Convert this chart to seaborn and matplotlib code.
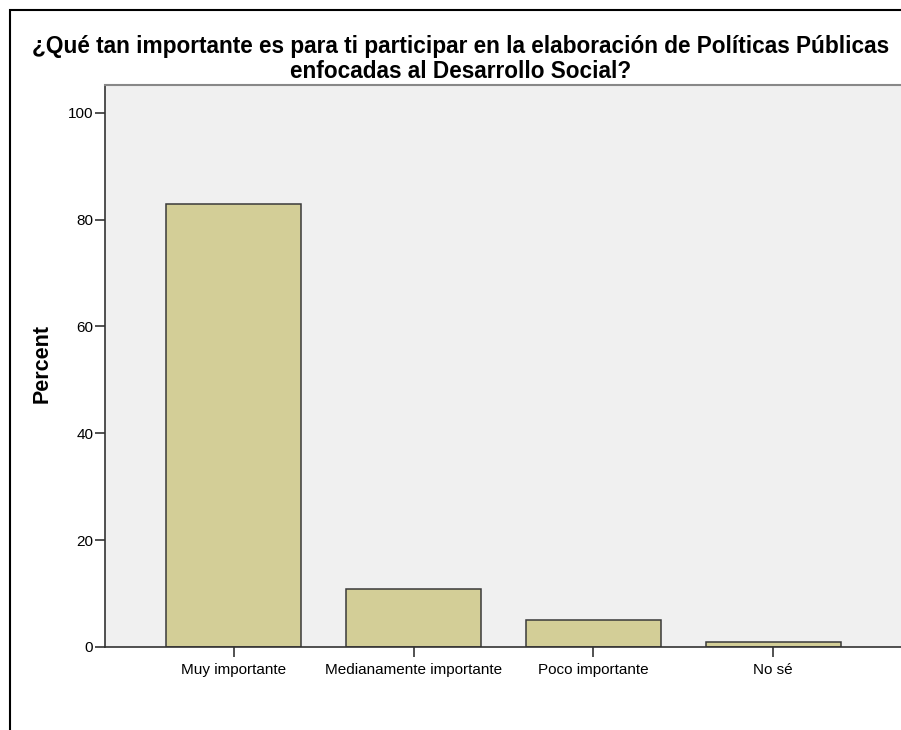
import matplotlib
matplotlib.use("Agg")
import pandas as pd
import seaborn as sns
import matplotlib.pyplot as plt
from matplotlib import font_manager
from matplotlib.patches import Rectangle

# Datos
categorias = ["Muy importante", "Medianamente importante", "Poco importante", "No sé"]
porcentajes = [82.9, 10.9, 5.1, 1.0]
ticks_y = [0, 20, 40, 60, 80, 100]
titulo = ("¿Qué tan importante es para ti participar en la elaboración de Políticas Públicas\n"
          "enfocadas al Desarrollo Social?")

df = pd.DataFrame({"categoria": categorias, "porcentaje": porcentajes})

sns.set_style("white")
plt.rcParams["font.family"] = ["Liberation Sans", "DejaVu Sans"]
plt.rcParams["text.color"] = "black"
plt.rcParams["xtick.color"] = "black"
plt.rcParams["ytick.color"] = "black"
plt.rcParams["axes.labelcolor"] = "black"

# Liberation Sans Bold (no la versión Narrow)
ruta_bold = None
for f in font_manager.fontManager.ttflist:
    if f.name == "Liberation Sans" and f.weight == 700 and f.style == "normal" \
            and "Narrow" not in f.fname:
        ruta_bold = f.fname
        break


def negrita(size):
    if ruta_bold:
        return font_manager.FontProperties(fname=ruta_bold, size=size)
    return font_manager.FontProperties(family="DejaVu Sans", weight="bold", size=size)


W, H = 901, 730
fig = plt.figure(figsize=(W / 100, H / 100), dpi=100)

# Marco exterior
fig.patches.append(Rectangle((10 / W, -0.1), 1.2, (H - 10) / H + 0.1,
                             transform=fig.transFigure, fill=False,
                             edgecolor="black", linewidth=1.5, zorder=0))

ax = fig.add_axes([105 / W, (H - 647) / H, (902 - 105) / W, (647 - 85) / H])
ax.set_facecolor("#F0F0F0")

sns.barplot(data=df, x="categoria", y="porcentaje", order=categorias,
            color="#D3CE97", saturation=1, width=0.75,
            edgecolor="#3A3A3A", linewidth=1.1, ax=ax)

ax.set_xlim(-0.717, 3.717)
ax.set_ylim(0, 105.2)
ax.set_yticks(ticks_y)
ax.set_xlabel("")
ax.set_ylabel("Percent", fontproperties=negrita(15.5))
ax.yaxis.set_label_coords(-0.066, 0.504)
ax.tick_params(axis="both", direction="out", length=7.5, width=1.2, color="#333333",
               labelsize=11, pad=1, left=True, bottom=True)
ax.tick_params(axis="x", pad=4)

for lado in ["left", "bottom"]:
    ax.spines[lado].set_color("#333333")
    ax.spines[lado].set_linewidth(1.2)
ax.spines["top"].set_color("#888888")
ax.spines["top"].set_linewidth(1.5)
ax.spines["right"].set_visible(False)

fig.text(461 / W, 1 - 78 / H, titulo, ha="center", va="baseline",
         fontproperties=negrita(16.3), linespacing=1.13)

fig.savefig("out.png", dpi=100)
